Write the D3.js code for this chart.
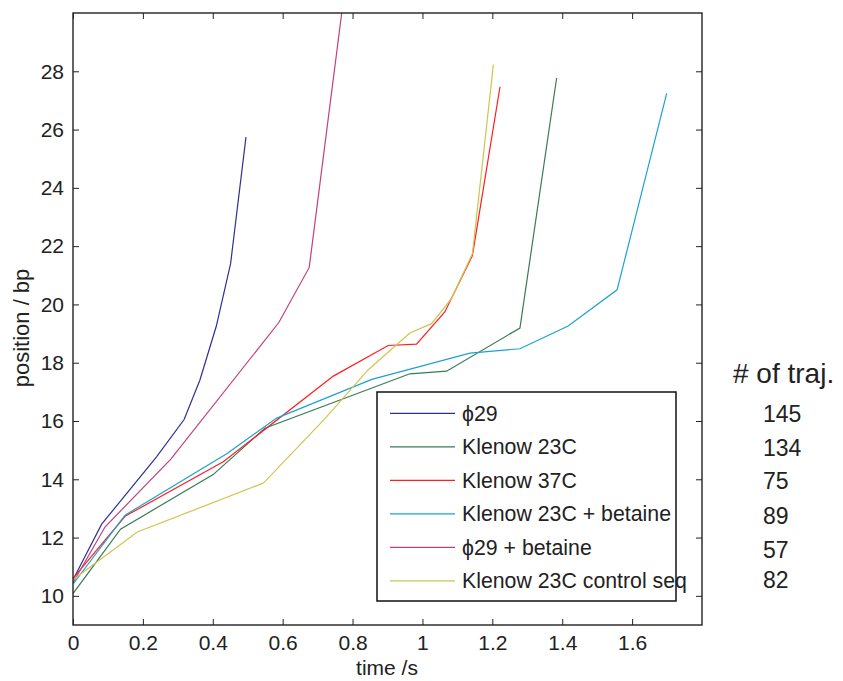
<!DOCTYPE html>
<html><head><meta charset="utf-8">
<script src="https://cdn.jsdelivr.net/npm/d3@7"></script>
<style>body{margin:0;background:#fff}svg{display:block}text{font-family:"Liberation Sans",Arial,sans-serif;fill:#222}</style>
</head><body><svg id="c" width="843" height="681"></svg>
<script>
const seriesNames = ["ϕ29","Klenow 23C","Klenow 37C","Klenow 23C + betaine","ϕ29 + betaine","Klenow 23C control seq"];
const seriesColors = ["#2e3192","#3a7a58","#ff1e1e","#1ba3d0","#c2407e","#d0c44e"];
const trajCounts = [145,134,75,89,57,82];
const phi29T = [0,0.082,0.239,0.318,0.363,0.41,0.451,0.495];
const phi29Y = [10.55,12.46,14.77,16.05,17.4,19.25,21.4,25.74];
const k23T = [0,0.136,0.401,0.549,0.964,1.069,1.279,1.384];
const k23Y = [10.08,12.29,14.16,15.75,17.62,17.71,19.19,27.77];
const k37T = [0,0.149,0.43,0.745,0.902,0.983,1.064,1.143,1.222];
const k37Y = [10.6,12.73,14.6,17.54,18.59,18.64,19.74,21.68,27.47];
const k23bT = [0,0.149,0.44,0.583,0.855,1.136,1.279,1.417,1.557,1.699];
const k23bY = [10.4,12.77,14.88,16.1,17.43,18.33,18.48,19.26,20.5,27.24];
const phi29bT = [0,0.092,0.28,0.589,0.676,0.769];
const phi29bY = [10.45,12.37,14.69,19.38,21.27,30.0];
const ctrlT = [0,0.184,0.545,0.721,0.845,0.964,1.026,1.083,1.143,1.203];
const ctrlY = [10.55,12.19,13.87,16.08,17.76,19.02,19.34,20.2,21.74,28.23];
const xTicks = [0,0.2,0.4,0.6,0.8,1,1.2,1.4,1.6];
const yTicks = [10,12,14,16,18,20,22,24,26,28];

const allT = [phi29T,k23T,k37T,k23bT,phi29bT,ctrlT];
const allY = [phi29Y,k23Y,k37Y,k23bY,phi29bY,ctrlY];

const L=73,R=702,T=13,B=625;
const svg = d3.select("#c");
svg.append("rect").attr("width",843).attr("height",681).attr("fill","#fff");
const x = d3.scaleLinear().domain([0,1.8]).range([L,R]);
const y = d3.scaleLinear().domain([9,30]).range([B,T]);

svg.append("defs").append("clipPath").attr("id","clip").append("rect")
  .attr("x",L).attr("y",T).attr("width",R-L).attr("height",B-T);

const line = d3.line().x(d=>x(d[0])).y(d=>y(d[1]));
const g = svg.append("g").attr("clip-path","url(#clip)");
allT.forEach((ts,i)=>{
  g.append("path").datum(ts.map((t,j)=>[t,allY[i][j]]))
   .attr("d",line).attr("fill","none").attr("stroke",seriesColors[i]).attr("stroke-width",1.2);
});

const fmt = d=>String(d);
const xB = svg.append("g").attr("transform",`translate(0,${B})`).call(d3.axisBottom(x).tickValues(xTicks).tickFormat(fmt).tickSizeInner(-6).tickSizeOuter(0).tickPadding(10));
const xT = svg.append("g").attr("transform",`translate(0,${T})`).call(d3.axisTop(x).tickValues(xTicks).tickFormat("").tickSizeInner(-6).tickSizeOuter(0));
const yL = svg.append("g").attr("transform",`translate(${L},0)`).call(d3.axisLeft(y).tickValues(yTicks).tickFormat(fmt).tickSizeInner(-6).tickSizeOuter(0).tickPadding(9));
const yR = svg.append("g").attr("transform",`translate(${R},0)`).call(d3.axisRight(y).tickValues(yTicks).tickFormat("").tickSizeInner(-6).tickSizeOuter(0));
[xB,xT,yL,yR].forEach(a=>{
  a.selectAll(".domain").remove();
  a.selectAll("line").attr("stroke","#222").attr("stroke-width",1);
  a.selectAll("text").attr("font-size",21).attr("fill","#222").attr("font-family","Liberation Sans, Arial, sans-serif");
});
xB.selectAll("text").attr("dy","0.71em");
svg.append("rect").attr("x",L).attr("y",T).attr("width",R-L).attr("height",B-T)
  .attr("fill","none").attr("stroke","#222").attr("stroke-width",1.4);

svg.append("text").attr("x",387).attr("y",675).attr("text-anchor","middle").attr("font-size",21).text("time /s");
svg.append("text").attr("transform","translate(29,328) rotate(-90)").attr("text-anchor","middle").attr("font-size",22).text("position / bp");

// legend
const lg = svg.append("g");
lg.append("rect").attr("x",377).attr("y",392).attr("width",299).attr("height",209)
  .attr("fill","#fff").attr("stroke","#111").attr("stroke-width",1.5);
seriesNames.forEach((n,i)=>{
  const cy = 413.3 + i*33.5;
  lg.append("line").attr("x1",390).attr("x2",455).attr("y1",cy).attr("y2",cy)
    .attr("stroke",seriesColors[i]).attr("stroke-width",1.2);
  lg.append("text").attr("x",462).attr("y",cy+7.5).attr("font-size",21.3).text(n);
});

// trajectory counts
svg.append("text").attr("x",733).attr("y",383).attr("font-size",28)
  .attr("font-family","Open Sans, sans-serif").text("# of traj.");
const cBase = [421.7,456,489,524,558,588];
trajCounts.forEach((c,i)=>{
  svg.append("text").attr("x",763).attr("y",cBase[i]).attr("font-size",23)
    .attr("font-family","Open Sans, sans-serif").text(c);
});
</script></body></html>
